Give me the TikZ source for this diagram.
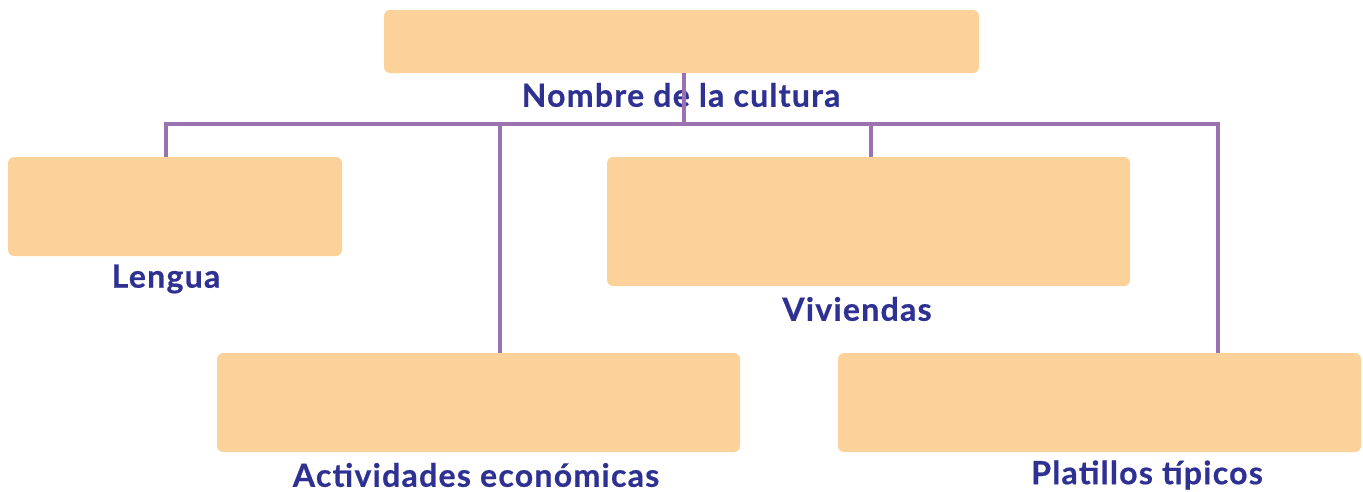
\documentclass[tikz,border=0pt]{standalone}
\usepackage{fontspec}
\setmainfont{Lato}
\newfontfamily\labfont[LetterSpace=4,BoldFeatures={FakeBold=0.6}]{Lato}
\definecolor{boxfill}{HTML}{FDD29A}
\definecolor{linepurple}{HTML}{9B72B0}
\definecolor{labelblue}{HTML}{2E3192}
\begin{document}
\begin{tikzpicture}[x=1pt,y=-1pt,
  box/.style={fill=boxfill,draw=none,rounded corners=6pt,inner sep=0pt},
  lab/.style={text=labelblue,font=\labfont\fontsize{32}{36}\selectfont\bfseries,inner sep=0pt,anchor=center},
  conn/.style={draw=linepurple,line width=4pt}]
\useasboundingbox (0,0) rectangle (1363,491);
\node[box,minimum width=595pt,minimum height=63pt] (top) at (681.5,41.5) {};
\node[box,minimum width=334pt,minimum height=99pt] (lengua) at (175,206.5) {};
\node[box,minimum width=523pt,minimum height=129pt] (viv) at (868.5,221.5) {};
\node[box,minimum width=523pt,minimum height=99pt] (act) at (478.5,402.5) {};
\node[box,minimum width=523pt,minimum height=99pt] (plat) at (1099.5,402.5) {};
\node[lab] (tnombre) at (681,95) {Nombre de la cultura};
\node[lab] (tlengua) at (166,279) {Lengua};
\node[lab] (tviv) at (857,309) {Viviendas};
\node[lab] (tact) at (476,475) {Actividades económicas};
\node[lab] (tplat) at (1147,475) {Platillos típicos};
\coordinate (j) at (684,124);
\coordinate (bL) at (166,124);
\coordinate (bA) at (500,124);
\coordinate (bV) at (871,124);
\coordinate (bP) at (1218,124);
\draw[conn] (top.south -| j) -- (j);
\draw[conn,line cap=butt] ([xshift=-2pt]bL) -- ([xshift=2pt]bP);
\draw[conn] (bL) -- (bL |- lengua.north);
\draw[conn] (bA) -- (bA |- act.north);
\draw[conn] (bV) -- (bV |- viv.north);
\draw[conn] (bP) -- (bP |- plat.north);
\end{tikzpicture}
\end{document}
